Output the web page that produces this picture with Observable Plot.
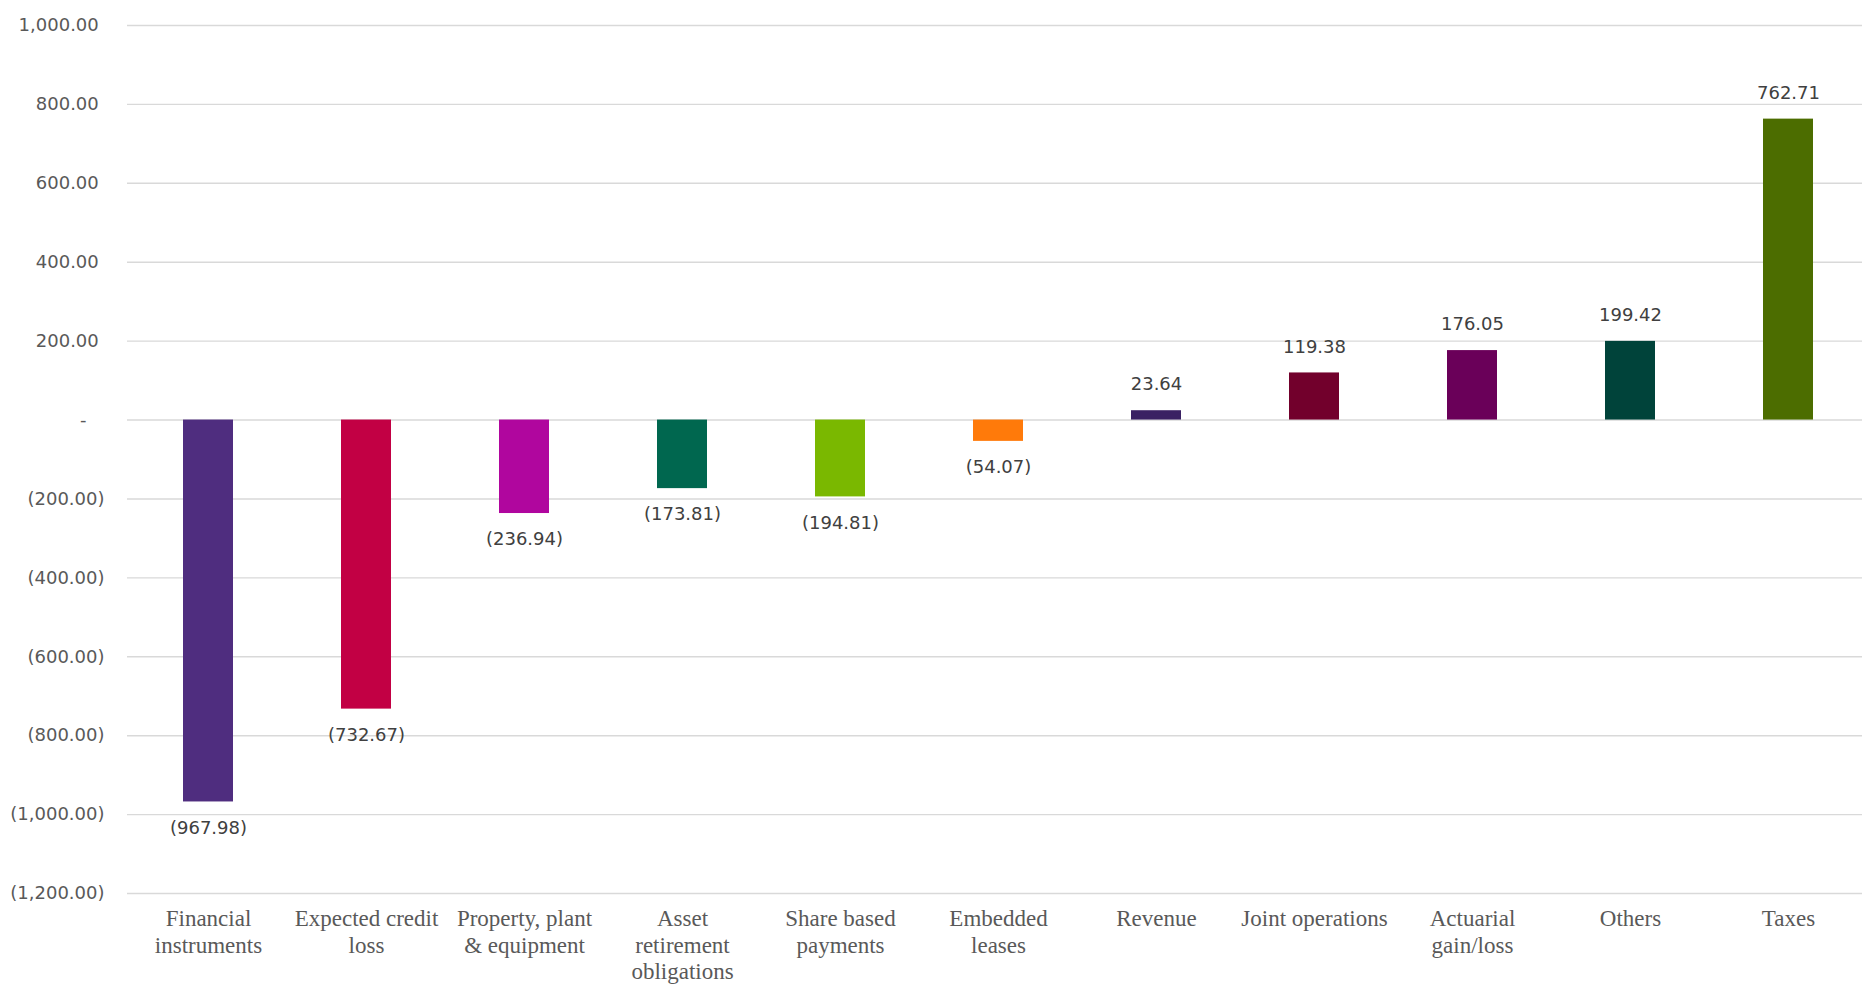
<!DOCTYPE html>
<html><head><meta charset="utf-8">
<script src="https://cdn.jsdelivr.net/npm/d3@7"></script>
<script src="https://cdn.jsdelivr.net/npm/@observablehq/plot@0.6"></script>
<style>html,body{margin:0;padding:0;background:#fff;overflow:hidden}</style>
</head><body><div id="chart"></div>
<script>
const categories = ["Financial instruments", "Expected credit loss", "Property, plant & equipment", "Asset retirement obligations", "Share based payments", "Embedded leases", "Revenue", "Joint operations", "Actuarial gain/loss", "Others", "Taxes"];
const categoryLabels = ["Financial\ninstruments", "Expected credit\nloss", "Property, plant\n& equipment", "Asset\nretirement\nobligations", "Share based\npayments", "Embedded\nleases", "Revenue", "Joint operations", "Actuarial\ngain/loss", "Others", "Taxes"];
const values = [-967.98, -732.67, -236.94, -173.81, -194.81, -54.07, 23.64, 119.38, 176.05, 199.42, 762.71];
const colors = ["#4F2D7F", "#C20044", "#B0069E", "#00674F", "#7AB800", "#FF7A0A", "#3A2163", "#72002C", "#6A0059", "#00433A", "#4C6D00"];
const yTicks = [1000, 800, 600, 400, 200, 0, -200, -400, -600, -800, -1000, -1200];

const data = categories.map((c, i) => ({category: c, value: values[i]}));
const labelOf = new Map(categories.map((c, i) => [c, categoryLabels[i]]));
const fmt = d3.format(",.2f");
const yFmt = v => v === 0 ? "-\u2003" : v < 0 ? `(${fmt(-v)})` : fmt(v) + "\u2008";
const valFmt = v => v < 0 ? `(${fmt(-v)})` : fmt(v);
const labelStyle = {x: "category", y: "value", text: d => valFmt(d.value),
  fontFamily: "DejaVu Sans", fontSize: 18, fill: "#404040", lineAnchor: "middle", textAnchor: "middle"};

const chart = Plot.plot({
  width: 1862,
  height: 984,
  marginLeft: 127,
  marginRight: 0,
  marginTop: 25,
  marginBottom: 91,
  style: {background: "#fff"},
  x: {domain: categories, range: [127, 1868], paddingInner: 0.684, paddingOuter: 0.348},
  y: {domain: [-1200, 1000]},
  color: {domain: categories, range: colors},
  marks: [
    Plot.ruleY(yTicks, {stroke: "#d9d9d9", strokeWidth: 1.4}),
    Plot.barY(data, {x: "category", y: "value", fill: "category"}),
    Plot.text(data.filter(d => d.value >= 0), {...labelStyle, dy: -26}),
    Plot.text(data.filter(d => d.value < 0), {...labelStyle, dy: 26}),
    Plot.axisY({ticks: yTicks, tickFormat: yFmt, tickSize: 0, tickPadding: 23,
      fontFamily: "DejaVu Sans", fontSize: 18, fill: "#595959", label: null}),
    Plot.axisX({tickFormat: d => labelOf.get(d), tickSize: 0, tickPadding: 13,
      fontFamily: "Liberation Serif", fontSize: 23, lineHeight: 1.17, fill: "#595959", label: null})
  ]
});
document.getElementById("chart").appendChild(chart);
</script>
</body></html>
